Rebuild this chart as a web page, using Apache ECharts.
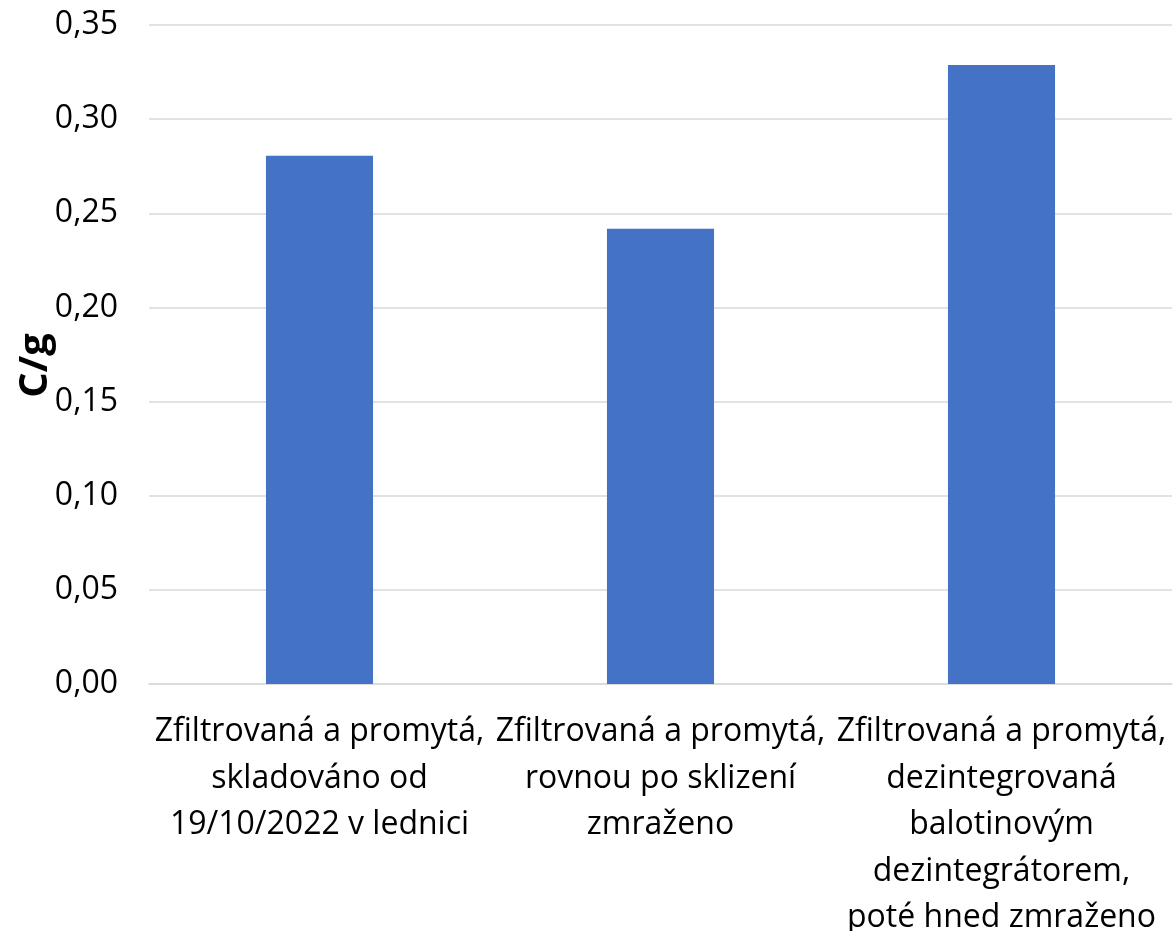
<!DOCTYPE html>
<html>
<head>
<meta charset="utf-8">
<script src="https://cdn.jsdelivr.net/npm/echarts@6/dist/echarts.min.js"></script>
<style>html,body{margin:0;padding:0;background:#fff}#c{width:1175px;height:931px}</style>
</head>
<body>
<div id="c"></div>
<script>
const categories = [
  "Zfiltrovaná a promytá,\nskladováno od\n19/10/2022 v lednici",
  "Zfiltrovaná a promytá,\nrovnou po sklizení\nzmraženo",
  "Zfiltrovaná a promytá,\ndezintegrovaná\nbalotinovým\ndezintegrátorem,\npoté hned zmraženo"
];
const values = [0.2805, 0.2418, 0.3288];
const yAxisName = "C/g";
const yMin = 0, yMax = 0.35, yStep = 0.05;

const FONT = "'Open Sans', sans-serif";
const chart = echarts.init(document.getElementById('c'));
chart.setOption({
  animation: false,
  grid: { left: 149, right: 3, top: 25, bottom: 247, containLabel: false, outerBoundsMode: 'none' },
  xAxis: {
    type: 'category',
    data: categories,
    axisLine: { lineStyle: { color: '#D9D9D9', width: 1.5 } },
    axisTick: { show: false },
    axisLabel: { interval: 0, color: '#000', fontFamily: FONT, fontSize: 32, lineHeight: 46.5, margin: 25 }
  },
  yAxis: {
    type: 'value', min: yMin, max: yMax, interval: yStep,
    name: yAxisName, nameLocation: 'middle', nameGap: 93, nameRotate: 90, nameMoveOverlap: false,
    nameTextStyle: { fontFamily: FONT, fontSize: 40, fontWeight: 'bold', color: '#000', padding: [0, 22, 0, 0] },
    axisLine: { show: false }, axisTick: { show: false },
    splitLine: { lineStyle: { color: '#D9D9D9', width: 1.5 } },
    axisLabel: { color: '#000', fontFamily: FONT, fontSize: 32, margin: 31,
      formatter: v => v.toFixed(2).replace('.', ',') }
  },
  series: [{ type: 'bar', data: values, barWidth: '31.4%', itemStyle: { color: '#4472C4' } }]
});
</script>
</body>
</html>
